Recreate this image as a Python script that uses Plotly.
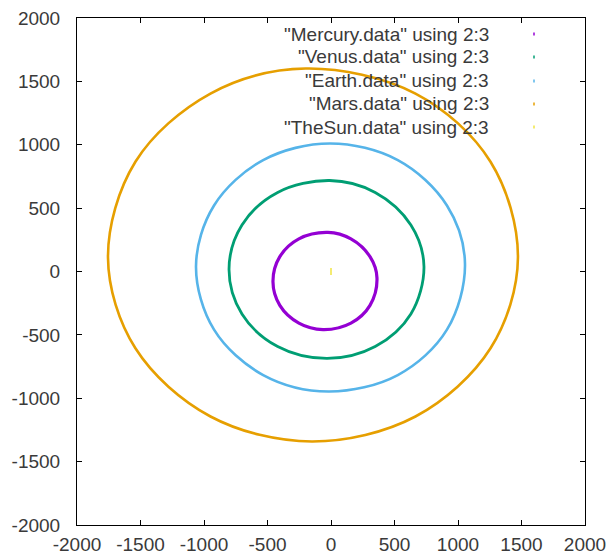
import plotly.graph_objects as go

# Orbit traces (x, y positions sampled around each orbit)
mercury_x = [362, 307, 157, -24, -253, -403, -457, -403, -253, -63, 157, 307]
mercury_y = [-50, 117, 257, 308, 257, 117, -79, -267, -407, -458, -407, -267]

venus_x = [732, 629, 348, -10, -420, -701, -803, -701, -420, -30, 348, 629]
venus_y = [40, 367, 624, 718, 624, 367, 16, -335, -592, -686, -592, -335]

earth_x = [1055, 913, 526, -8, -534, -921, -1063, -921, -534, -20, 526, 913]
earth_y = [60, 521, 879, 1010, 879, 521, 40, -459, -817, -947, -817, -459]

mars_x = [1472, 1256, 665, -200, -949, -1540, -1756, -1540, -949, -150, 665, 1256]
mars_y = [110, 866, 1404, 1601, 1404, 866, 110, -606, -1144, -1341, -1144, -606]

sun_x = [0]
sun_y = [0]

series_names = ['"Mercury.data" using 2:3', '"Venus.data" using 2:3',
                '"Earth.data" using 2:3', '"Mars.data" using 2:3',
                '"TheSun.data" using 2:3']
series_colors = ["#9400d3", "#009e73", "#56b4e9", "#e69f00", "#f0e442"]

tick_values = [-2000, -1500, -1000, -500, 0, 500, 1000, 1500, 2000]
tick_labels = ["-2000", "-1500", "-1000", "-500", "0", "500", "1000", "1500", "2000"]

FONT = "Liberation Sans, Arial, sans-serif"
TEXT_COLOR = "#3a3a3a"

fig = go.Figure()

orbits = [(mercury_x, mercury_y, 3.2), (venus_x, venus_y, 2.8),
          (earth_x, earth_y, 2.6), (mars_x, mars_y, 2.6)]
for (xs, ys, w), name, color in zip(orbits, series_names, series_colors):
    fig.add_trace(go.Scatter(
        x=xs + xs[:1], y=ys + ys[:1], mode="lines", name=name,
        line=dict(color=color, width=w, shape="spline", smoothing=1.0),
        showlegend=False, hoverinfo="skip",
    ))

fig.add_trace(go.Scatter(
    x=sun_x, y=sun_y, mode="markers", name=series_names[4],
    marker=dict(symbol="line-ns", size=5, line=dict(color=series_colors[4], width=1.5)),
    showlegend=False,
))

# Key: right-aligned labels with a tiny colour sample to the right
row_y_px = [34, 57, 81, 104, 127]
plot_top, plot_bottom, plot_left, plot_w = 18, 525, 77, 508
annotations = []
shapes = []
for name, color, ypx in zip(series_names, series_colors, row_y_px):
    yp = (plot_bottom - ypx) / (plot_bottom - plot_top)
    annotations.append(dict(
        x=(491 - plot_left) / plot_w, y=yp, xref="paper", yref="paper",
        xanchor="right", yanchor="middle", text=name, showarrow=False,
        font=dict(family=FONT, size=19, color=TEXT_COLOR),
    ))
    shapes.append(dict(
        type="line", xref="paper", yref="paper",
        x0=(534 - plot_left) / plot_w, x1=(534 - plot_left) / plot_w,
        y0=yp - 1.5 / 507, y1=yp + 1.5 / 507,
        line=dict(color=color, width=1.5),
    ))

axis_common = dict(
    range=[-2000, 2000], tickmode="array", tickvals=tick_values, ticktext=tick_labels,
    showgrid=False, zeroline=False, showline=True, linecolor="#000000", linewidth=1,
    mirror="ticks", ticks="inside", ticklen=5, tickcolor="#000000", tickwidth=1,
    tickfont=dict(family=FONT, size=19, color=TEXT_COLOR), automargin=False,
)

fig.update_layout(
    width=608, height=558,
    margin=dict(l=77, r=23, t=18, b=33),
    paper_bgcolor="white", plot_bgcolor="white",
    xaxis=dict(**axis_common, ticklabelstandoff=2),
    yaxis=dict(**axis_common, ticklabelstandoff=12),
    annotations=annotations, shapes=shapes,
    showlegend=False,
)

fig.write_html("out.html")
